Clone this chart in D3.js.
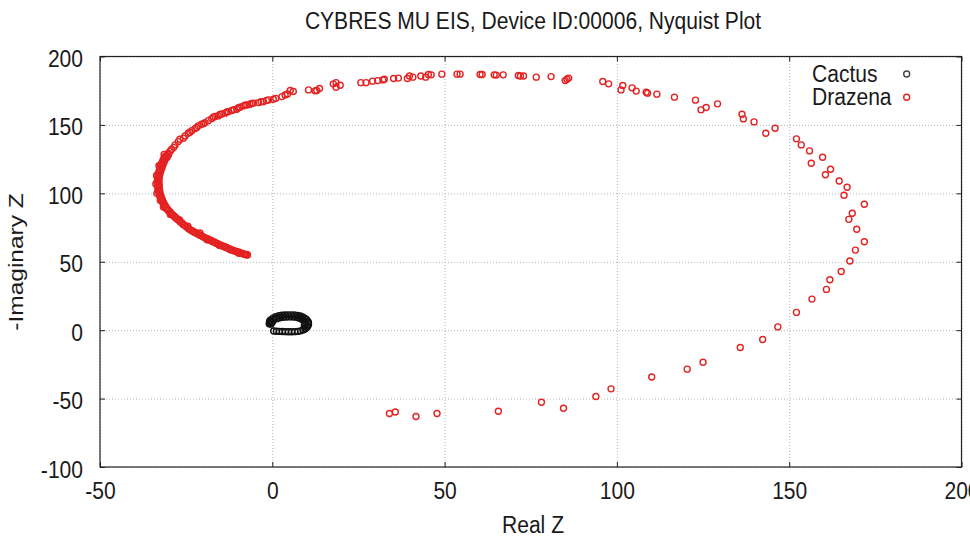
<!DOCTYPE html>
<html>
<head>
<meta charset="utf-8">
<script src="https://cdn.jsdelivr.net/npm/d3@7"></script>
<style>
  html, body { margin: 0; padding: 0; background: #fff; }
  svg { display: block; font-family: "Liberation Sans", Arial, sans-serif; }
</style>
</head>
<body>
<svg id="chart" width="970" height="540"></svg>
<script>
const titleText = "CYBRES MU EIS, Device ID:00006, Nyquist Plot";
const xLabel = "Real Z";
const yLabel = "-Imaginary Z";
const seriesNames = ["Cactus", "Drazena"];
const seriesColors = ["#111111", "#e42222"];
const xTicks = [-50, 0, 50, 100, 150, 200];
const yTicks = [-100, -50, 0, 50, 100, 150, 200];

// Cactus: small loop near the origin
const cactus = [
  [-0.5,7.5],[0.2,8.8],[1.0,9.8],[1.9,10.5],[2.8,10.9],[3.7,11.1],[4.6,11.2],[5.5,11.2],[6.4,11.1],[7.3,10.8],
  [8.1,10.3],[8.8,9.6],[9.4,8.8],[9.9,7.8],[10.3,6.6],[10.5,5.4],[10.5,4.2],[10.3,3.0],[10.0,1.9],
  [-0.6,5.5],[-0.2,6.5],[0.5,7.6],[1.3,8.4],[2.2,9.0],[3.1,9.4],[4.0,9.6],[4.9,9.7],[5.8,9.7],[6.7,9.5],
  [7.5,9.1],[8.2,8.5],[8.8,7.6],[9.2,6.6],[9.4,5.5],[9.4,4.4],[9.3,3.3],
  [-0.9,4.6],[-0.4,4.4],[-0.8,6.4],[0.0,5.8],
  [9.5,0.9],[8.9,0.1],[8.2,-0.5],[7.4,-0.9],[6.5,-1.1],[5.6,-1.2],[4.7,-1.2],[3.8,-1.1],[2.9,-1.0],[2.0,-0.9],[1.2,-0.8],[0.4,-0.6]
];

// Drazena: sparse outer arc
const drazenaArc = [
  [10.5,175.6],[6.1,174.4],[5.2,175.1],[3.7,171.9],[2.8,170.7],[0.3,168.8],[-1.1,168.3],[-2.6,167.0],[-4.0,166.3],[-5.5,165.9],
  [-6.5,165.1],[-7.4,164.6],[-8.4,163.9],[-9.4,162.9],[-10.3,161.5],[-11.8,160.5],[-12.8,159.7],[-13.7,158.6],[-14.7,158.0],[-15.7,156.6],
  [-16.6,156.1],[-17.6,154.6],[-18.6,153.1],[-19.5,151.7],[-20.5,150.5],[-21.5,149.3],[-22.4,147.3],[-23.4,145.8],[-24.4,143.9],[-25.3,141.9],
  [-26.8,139.5],[-27.3,137.8],[-28.2,135.4],[-29.2,132.2],[-30.2,129.3],
  [-25.8,140.2],[-23.9,144.6],[-21.9,148.1],[-19.9,151.0],[-17.1,155.6],[-15.2,157.6],[-13.2,159.4],[-11.1,161.2],[-9.9,162.4],
  [-7.9,164.5],[-6.0,165.6],[-3.3,166.9],[-1.7,167.9],[1.0,169.4],[4.4,172.6],[-28.6,133.6],[-29.6,131.0],
  [12.4,174.9],[12.9,175.1],[13.7,176.6],[17.7,180.0],[18.5,180.9],[18.5,177.6],[19.7,179.0],[25.7,180.9],[27.2,180.9],[29.1,182.0],
  [30.6,182.4],[32.1,182.9],[32.5,183.4],[35.2,183.9],[36.6,184.2],[39.2,183.9],[39.8,185.8],[40.8,184.9],[43.1,185.8],[44.5,184.9],
  [45.3,186.8],[46.1,186.6],[49.2,187.1],[53.6,187.1],[54.5,187.1],[60.3,186.8],[60.9,186.8],[64.4,186.6],[65.0,186.4],[67.0,186.6],
  [71.4,186.1],[72.0,185.8],[72.9,185.8],[76.6,184.9],[80.9,185.3],[85.0,182.4],[85.5,183.4],[86.0,184.2],[95.9,181.7],[97.6,180.0],
  [101.7,178.8],[101.2,175.6],[104.4,177.1],[105.6,174.7],[108.5,173.9],[108.9,173.2],[111.6,172.5],[116.7,170.3],[122.8,168.1],[124.4,161.0],
  [125.9,162.7],[129.2,165.4],[136.3,157.8],[136.7,154.4],[139.8,152.2],[143.2,143.9],[145.9,147.6],[152.1,139.8],[153.5,135.4],[155.9,131.0],
  [156.4,122.0],[159.7,126.4],[160.5,113.6],[162.0,117.6],[164.5,109.0],[166.8,104.4],[165.9,98.6],[171.8,92.0],[168.3,85.4],[167.3,81.0],
  [169.6,73.7],[171.8,64.6],[169.2,58.5],[167.6,50.5],[165.1,42.9],[161.8,36.8],[160.8,29.8],[156.6,22.7],[152.1,13.0],[146.7,2.4],
  [142.3,-6.8],[135.8,-12.7],
  [34.0,-60.9],[35.7,-59.8],[41.7,-63.1],[47.8,-60.9],[65.6,-59.3],[78.1,-52.7],[84.5,-57.1],[93.9,-48.5],[98.3,-42.9],[110.1,-34.2],
  [120.4,-28.5],[125.0,-23.4]
];

// Drazena: dense high-frequency tail
const drazenaTail = [
  [-30.8,127.5],[-31.3,126.6],[-30.9,125.8],[-31.6,124.9],[-31.2,124.0],[-31.9,123.1],[-31.5,122.2],[-32.2,121.4],[-31.8,120.5],[-32.5,119.6],
  [-32.0,118.7],[-32.7,117.8],[-32.3,116.9],[-32.9,116.0],[-32.5,115.1],[-33.1,114.2],[-32.7,113.3],[-33.2,112.4],[-32.8,111.5],[-33.3,110.6],
  [-32.9,109.7],
  [-33.4,108.8],[-32.9,107.9],[-33.3,107.0],[-32.8,106.1],[-33.3,105.2],[-32.8,104.3],[-33.2,103.4],[-32.7,102.5],[-33.1,101.6],[-32.6,100.7],
  [-32.9,99.8],[-32.4,98.9],[-32.7,98.0],[-32.2,97.1],[-32.4,96.2],[-31.9,95.3],[-32.1,94.4],[-31.6,93.5],[-31.7,92.6],[-31.2,91.7],
  [-31.3,90.8],[-30.8,89.9],[-30.8,89.0],[-30.3,88.2],[-30.2,87.3],[-29.7,86.5],[-29.6,85.6],[-29.1,84.8],[-28.9,84.0],[-28.4,83.2],
  [-28.2,82.4],[-27.7,81.6],[-27.5,80.8],
  [-27.0,80.0],[-26.7,79.0],[-26.2,78.3],[-25.9,77.3],[-25.4,76.6],[-25.1,75.7],[-24.6,75.0],[-24.3,74.1],[-23.8,73.4],[-23.4,72.7],
  [-23.0,72.4],[-22.7,71.5],[-22.2,71.2],[-21.8,70.4],[-21.3,70.0],[-20.9,69.2],[-20.4,68.8],[-20.0,68.0],[-19.5,67.6],[-19.1,66.9],
  [-18.6,66.6],[-18.2,65.8],[-17.7,65.5],[-17.3,64.7],[-16.8,64.4],[-16.4,63.6],[-15.9,63.3],[-15.5,62.5],[-15.0,62.3],
  [-14.6,61.6],[-14.1,61.4],[-13.7,60.6],[-13.2,60.4],[-12.8,59.6],[-12.3,59.4],[-11.9,58.7],[-11.4,58.5],[-11.0,57.8],
  [-10.5,57.7],[-10.1,57.0],[-9.6,56.9],[-9.2,56.3],[-8.8,56.2],[-8.4,55.6],[-8.0,55.6],[-7.7,55.1],[-7.4,55.3],[-7.2,54.9],
  [-31.4,128.4],[-30.5,126.4],[-30.1,128.2],[-32.9,120.2],[-33.6,113.0],[-33.8,106.8],[-33.5,100.0],[-32.5,95.0],[-31.6,90.0],
  [-29.6,84.6],[-26.9,80.5],[-24.5,76.0],[-21.0,71.0],[-18.9,66.0],[-15.4,62.0],[-12.2,58.8],[-9.7,56.2]
];

const drazena = drazenaArc.concat(drazenaTail);

const svg = d3.select("#chart");
const pLeft = 100, pRight = 961.5, pTop = 56.5, pBottom = 467;
const sx = 0.86; // horizontal text compression
const fs = 24.5;
const textColor = "#1a1a1a";
const fmt = d => String(d);

const x = d3.scaleLinear().domain([xTicks[0], xTicks[xTicks.length - 1]]).range([pLeft, pRight]);
const y = d3.scaleLinear().domain([yTicks[0], yTicks[yTicks.length - 1]]).range([pBottom, pTop]);

// grid
const grid = svg.append("g");
grid.append("g").attr("transform", `translate(0,${pBottom})`)
  .call(d3.axisBottom(x).tickValues(xTicks).tickSize(-(pBottom - pTop)).tickFormat(""))
  .call(g => g.select(".domain").remove())
  .call(g => g.selectAll("line").attr("stroke", "#b5b5b5").attr("stroke-dasharray", "1,2"));
grid.append("g").attr("transform", `translate(${pLeft},0)`)
  .call(d3.axisLeft(y).tickValues(yTicks).tickSize(-(pRight - pLeft)).tickFormat(""))
  .call(g => g.select(".domain").remove())
  .call(g => g.selectAll("line").attr("stroke", "#b5b5b5").attr("stroke-dasharray", "1,2"));

// axes with inward ticks
const styleAxis = g => {
  g.select(".domain").remove();
  g.selectAll("line").attr("stroke", "#222").attr("stroke-width", 1);
};
svg.append("g").attr("transform", `translate(0,${pBottom})`)
  .call(d3.axisBottom(x).tickValues(xTicks).tickSize(-5).tickFormat(fmt))
  .call(styleAxis)
  .call(g => g.selectAll("text")
    .attr("y", 32).attr("dy", 0)
    .attr("transform", `scale(${sx},1)`)
    .attr("fill", textColor).attr("font-size", fs)
    .attr("font-family", "Liberation Sans, Arial, sans-serif"));
svg.append("g").attr("transform", `translate(${pLeft},0)`)
  .call(d3.axisLeft(y).tickValues(yTicks).tickSize(-5).tickFormat(fmt))
  .call(styleAxis)
  .call(g => g.selectAll("text")
    .attr("x", -17 / sx).attr("y", 10).attr("dy", 0)
    .attr("transform", `scale(${sx},1)`)
    .attr("fill", textColor).attr("font-size", fs)
    .attr("font-family", "Liberation Sans, Arial, sans-serif"));
svg.append("g").attr("transform", `translate(0,${pTop})`)
  .call(d3.axisTop(x).tickValues(xTicks).tickSize(-5).tickFormat(""))
  .call(styleAxis);
svg.append("g").attr("transform", `translate(${pRight},0)`)
  .call(d3.axisRight(y).tickValues(yTicks).tickSize(-5).tickFormat(""))
  .call(styleAxis);

// frame
svg.append("rect")
  .attr("x", pLeft).attr("y", pTop)
  .attr("width", pRight - pLeft).attr("height", pBottom - pTop)
  .attr("fill", "none").attr("stroke", "#222").attr("stroke-width", 1.2);

// points
const r = 3, sw = 1.4;
const plot = svg.append("g");
plot.append("g").selectAll("circle").data(cactus).join("circle")
  .attr("cx", d => x(d[0])).attr("cy", d => y(d[1])).attr("r", r)
  .attr("fill", "none").attr("stroke", seriesColors[0]).attr("stroke-width", sw);
plot.append("g").selectAll("circle").data(drazena).join("circle")
  .attr("cx", d => x(d[0])).attr("cy", d => y(d[1])).attr("r", r)
  .attr("fill", "none").attr("stroke", seriesColors[1]).attr("stroke-width", sw);

// title and axis labels
svg.append("text")
  .attr("transform", `translate(533,29.3) scale(${sx},1)`)
  .attr("text-anchor", "middle").attr("font-size", fs).attr("fill", textColor)
  .text(titleText);
svg.append("text")
  .attr("transform", `translate(533,533) scale(${sx},1)`)
  .attr("text-anchor", "middle").attr("font-size", fs).attr("fill", textColor)
  .text(xLabel);
svg.append("text")
  .attr("transform", `translate(22.5,262) rotate(-90) scale(1,${sx})`)
  .attr("text-anchor", "middle").attr("font-size", fs).attr("fill", textColor)
  .text(yLabel);

// legend
const legendRowY = d3.scalePoint().domain(seriesNames).range([74, 97.3]);
const leg = svg.append("g");
seriesNames.forEach((name, i) => {
  leg.append("text")
    .attr("transform", `translate(812,${legendRowY(name) + 8}) scale(${sx},1)`)
    .attr("font-size", fs).attr("fill", textColor)
    .text(name);
  leg.append("circle")
    .attr("cx", 906.7).attr("cy", legendRowY(name)).attr("r", r)
    .attr("fill", "none").attr("stroke", i === 0 ? "#444" : seriesColors[1]).attr("stroke-width", sw);
});
</script>
</body>
</html>
